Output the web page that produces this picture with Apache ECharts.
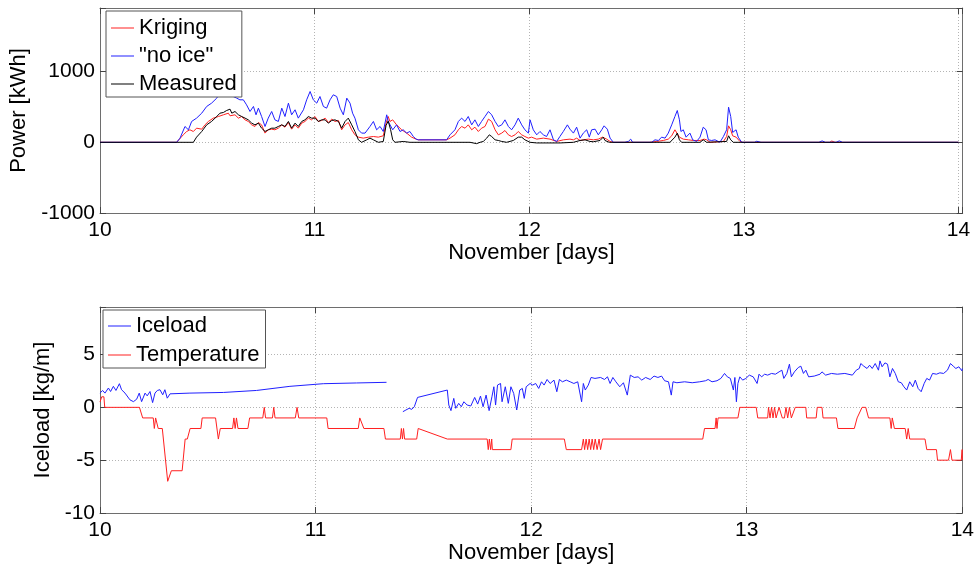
<!DOCTYPE html>
<html>
<head>
<meta charset="utf-8">
<script src="https://cdn.jsdelivr.net/npm/echarts@6/dist/echarts.min.js"></script>
<style>
  html, body { margin: 0; padding: 0; background: #fff; }
  #chart { width: 977px; height: 568px; }
</style>
</head>
<body>
<div id="chart"></div>
<script>
// ---- Power output, 10-14 November [day, kWh] ----
const krigingPower = [
  [10,0],[10.357,0],[10.388,106],[10.404,153],[10.419,177],[10.435,153],[10.450,200],[10.474,186],[10.489,247],
  [10.505,295],[10.528,342],[10.552,365],[10.575,389],[10.598,412],[10.606,375],[10.629,389],[10.645,342],
  [10.660,365],[10.676,318],[10.691,295],[10.707,247],[10.722,224],[10.738,280],[10.753,247],[10.769,130],
  [10.784,177],[10.800,186],[10.815,177],[10.831,200],[10.847,247],[10.862,214],[10.878,280],[10.893,186],
  [10.909,247],[10.924,200],[10.940,271],[10.955,295],[10.971,342],[10.986,318],[11.002,365],[11.017,295],
  [11.033,309],[11.049,342],[11.064,280],[11.080,328],[11.095,295],[11.111,309],[11.126,177],[11.142,247],
  [11.157,280],[11.173,177],[11.188,106],[11.204,73],[11.227,59],[11.251,73],[11.274,82],[11.297,73],
  [11.320,92],[11.333,271],[11.343,365],[11.351,295],[11.364,318],[11.382,247],[11.406,177],[11.429,130],
  [11.452,73],[11.473,45],[11.483,35],[11.615,35],[11.631,59],[11.654,106],[11.670,177],[11.685,224],
  [11.701,200],[11.716,247],[11.732,177],[11.747,214],[11.763,153],[11.778,200],[11.794,224],[11.810,328],
  [11.825,295],[11.841,177],[11.856,106],[11.872,130],[11.887,167],[11.903,106],[11.918,82],[11.934,106],
  [11.949,153],[11.965,106],[11.980,82],[11.996,59],[12.011,73],[12.035,45],[12.066,59],[12.097,45],
  [12.128,12],[12.159,35],[12.190,45],[12.206,35],[12.221,59],[12.237,26],[12.252,35],[12.276,45],
  [12.299,35],[12.322,45],[12.342,73],[12.361,45],[12.377,12],[12.392,0],[12.560,0],[12.594,12],
  [12.625,26],[12.648,45],[12.664,92],[12.679,177],[12.687,153],[12.700,73],[12.718,45],[12.742,35],
  [12.765,26],[12.796,26],[12.815,45],[12.827,35],[12.843,0],[12.905,12],[12.920,82],[12.929,233],
  [12.939,177],[12.948,92],[12.964,73],[12.982,12],[12.995,0],[13.400,0],[13.410,18],[13.425,0],[14,0]
];
const noIcePower = [
  [10,0],[10.357,0],[10.373,59],[10.396,224],[10.412,177],[10.427,295],[10.450,342],[10.474,412],[10.482,389],
  [10.497,507],[10.520,554],[10.544,625],[10.559,695],[10.575,672],[10.598,695],[10.621,648],[10.637,625],
  [10.652,601],[10.668,601],[10.683,530],[10.699,436],[10.715,507],[10.727,389],[10.738,483],[10.753,365],
  [10.769,224],[10.784,342],[10.800,436],[10.815,318],[10.831,295],[10.847,483],[10.862,365],[10.878,554],
  [10.893,389],[10.909,460],[10.924,342],[10.948,460],[10.963,601],[10.979,719],[10.994,601],[11.010,554],
  [11.025,648],[11.041,507],[11.056,483],[11.072,601],[11.087,672],[11.103,648],[11.119,483],[11.134,389],
  [11.150,625],[11.165,554],[11.177,412],[11.188,342],[11.204,177],[11.219,130],[11.235,130],[11.258,224],
  [11.274,295],[11.289,177],[11.305,224],[11.320,153],[11.336,389],[11.343,295],[11.351,318],[11.364,177],
  [11.382,247],[11.398,153],[11.413,177],[11.429,130],[11.444,153],[11.460,82],[11.473,45],[11.483,35],
  [11.615,35],[11.631,106],[11.654,177],[11.670,295],[11.685,342],[11.701,295],[11.716,365],[11.732,247],
  [11.747,318],[11.763,224],[11.778,295],[11.794,365],[11.810,436],[11.825,389],[11.841,295],[11.856,224],
  [11.872,247],[11.887,318],[11.903,224],[11.918,177],[11.934,247],[11.949,342],[11.965,247],[11.980,177],
  [11.996,130],[12.004,318],[12.019,177],[12.035,106],[12.050,153],[12.066,106],[12.081,82],[12.097,177],
  [12.113,35],[12.128,12],[12.143,82],[12.159,153],[12.178,247],[12.190,186],[12.206,130],[12.221,214],
  [12.237,59],[12.252,130],[12.268,177],[12.280,73],[12.291,177],[12.307,186],[12.322,106],[12.338,177],
  [12.349,233],[12.364,186],[12.377,59],[12.392,0],[12.446,0],[12.462,12],[12.473,45],[12.482,0],
  [12.571,0],[12.586,35],[12.602,26],[12.617,73],[12.633,59],[12.648,130],[12.664,247],[12.679,365],
  [12.690,450],[12.700,318],[12.707,153],[12.718,177],[12.731,73],[12.749,130],[12.762,35],[12.780,12],
  [12.796,73],[12.811,214],[12.824,177],[12.835,35],[12.850,26],[12.866,35],[12.889,0],[12.905,82],
  [12.920,177],[12.929,497],[12.939,365],[12.948,140],[12.964,177],[12.974,73],[12.990,0],[13.050,0],
  [13.060,15],[13.080,0],[13.350,0],[13.365,20],[13.380,0],[13.430,0],[13.445,20],[13.460,0],[14,0]
];
const measuredPower = [
  [10,0],[10.435,0],[10.450,73],[10.474,153],[10.497,247],[10.520,295],[10.544,365],[10.559,412],[10.575,422],
  [10.590,450],[10.606,469],[10.614,412],[10.629,436],[10.645,389],[10.660,365],[10.676,342],[10.691,318],
  [10.707,271],[10.722,247],[10.738,271],[10.753,200],[10.769,153],[10.784,177],[10.800,200],[10.815,200],
  [10.831,224],[10.847,247],[10.862,224],[10.878,295],[10.893,200],[10.909,271],[10.924,224],[10.940,295],
  [10.955,318],[10.971,365],[10.986,342],[11.002,342],[11.017,295],[11.033,318],[11.049,318],[11.064,271],
  [11.080,309],[11.095,318],[11.111,295],[11.126,200],[11.142,295],[11.157,342],[11.173,247],[11.188,153],
  [11.204,35],[11.219,0],[11.243,35],[11.258,59],[11.274,35],[11.297,0],[11.320,12],[11.333,240],
  [11.343,300],[11.354,180],[11.364,35],[11.375,0],[11.413,12],[11.444,0],[11.724,0],[11.755,-19],
  [11.771,0],[11.786,12],[11.802,59],[11.814,106],[11.825,82],[11.841,35],[11.856,26],[11.872,12],
  [11.895,0],[11.926,26],[11.949,73],[11.965,73],[11.980,35],[12.004,0],[12.035,-9],[12.144,-9],
  [12.206,0],[12.237,26],[12.260,35],[12.283,12],[12.299,8],[12.330,26],[12.345,73],[12.353,26],
  [12.373,0],[12.656,0],[12.679,73],[12.690,130],[12.700,35],[12.710,0],[12.796,0],[12.811,35],
  [12.827,0],[12.920,12],[12.929,92],[12.939,35],[12.951,0],[14,0]
];

// ---- Ice load [day, kg/m]; null marks the logging gap ----
const iceload = [
  [10.000,1.35],[10.012,1.6],[10.023,1.35],[10.039,1.83],[10.049,1.5],[10.062,1.99],[10.074,1.6],[10.090,2.24],
  [10.100,1.67],[10.116,1.35],[10.139,0.71],[10.155,0.54],[10.170,0.77],[10.182,1.35],[10.193,0.54],
  [10.209,1.35],[10.219,1.09],[10.232,1.5],[10.244,0.45],[10.255,1.35],[10.266,1.6],[10.278,1.67],
  [10.291,1.19],[10.301,1.67],[10.312,0.87],[10.318,0.71],[10.325,1.28],[10.417,1.35],[10.572,1.41],
  [10.726,1.6],[10.881,1.99],[11.036,2.24],[11.190,2.31],[11.329,2.37],[11.370,null],
  [11.405,-0.41],[11.419,-0.25],[11.434,-0.09],[11.446,-0.19],[11.458,0.06],[11.473,0.94],[11.611,1.64],
  [11.618,0.22],[11.628,-0.31],[11.641,0.85],[11.650,-0.09],[11.664,0.38],[11.676,0.06],[11.688,0.53],
  [11.703,0.22],[11.720,0.13],[11.738,0.94],[11.752,0.31],[11.765,1.07],[11.777,0.06],[11.791,1.16],
  [11.805,-0.31],[11.818,1.0],[11.827,1.95],[11.835,0.22],[11.844,2.11],[11.858,2.26],[11.865,0.53],
  [11.880,1.95],[11.894,0.38],[11.906,1.95],[11.919,1.32],[11.933,-0.25],[11.947,1.64],[11.959,1.79],
  [11.968,0.85],[11.977,1.95],[11.995,2.26],[12.007,2.11],[12.021,2.26],[12.035,1.79],[12.048,2.42],
  [12.060,2.11],[12.074,2.64],[12.088,2.26],[12.106,2.58],[12.119,1.48],[12.131,2.64],[12.145,2.42],
  [12.163,2.58],[12.181,2.42],[12.198,2.26],[12.216,2.42],[12.234,0.53],[12.242,2.26],[12.251,1.64],
  [12.265,2.11],[12.278,2.83],[12.296,2.74],[12.322,2.83],[12.340,2.64],[12.354,2.89],[12.366,2.26],
  [12.379,2.83],[12.393,2.42],[12.411,1.95],[12.428,2.33],[12.446,1.16],[12.460,3.05],[12.478,2.83],
  [12.496,2.89],[12.513,2.58],[12.531,2.83],[12.552,2.64],[12.570,2.96],[12.588,2.83],[12.605,2.96],
  [12.619,2.52],[12.637,2.42],[12.650,1.16],[12.658,2.42],[12.676,2.33],[12.712,2.42],[12.747,2.33],
  [12.782,2.42],[12.809,2.52],[12.821,2.64],[12.839,2.42],[12.862,2.52],[12.880,2.74],[12.897,3.21],
  [12.910,2.89],[12.924,2.74],[12.938,1.64],[12.945,2.83],[12.952,0.53],[12.959,2.26],[12.968,2.89],
  [12.981,2.58],[12.996,2.74],[13.012,3.05],[13.030,2.89],[13.048,2.26],[13.057,3.14],[13.069,2.89],
  [13.083,3.14],[13.097,3.05],[13.115,3.21],[13.133,3.14],[13.150,3.36],[13.163,3.52],[13.172,2.74],
  [13.186,3.21],[13.198,4.09],[13.207,2.89],[13.221,3.36],[13.239,3.77],[13.251,3.90],[13.263,3.21],
  [13.274,3.52],[13.287,2.89],[13.313,2.96],[13.340,3.14],[13.349,3.36],[13.366,3.05],[13.393,3.21],
  [13.420,3.14],[13.455,3.21],[13.490,3.05],[13.508,3.52],[13.522,3.68],[13.529,4.15],[13.543,3.90],
  [13.558,3.68],[13.570,3.99],[13.582,3.68],[13.596,4.15],[13.611,3.52],[13.618,4.40],[13.628,3.84],
  [13.641,4.21],[13.653,4.09],[13.664,2.89],[13.676,3.68],[13.689,3.21],[13.703,2.42],[13.717,2.33],
  [13.729,1.95],[13.742,1.64],[13.756,2.42],[13.770,1.95],[13.782,2.58],[13.795,1.79],[13.809,1.48],
  [13.823,2.26],[13.835,2.74],[13.848,2.58],[13.862,3.21],[13.880,3.14],[13.896,3.27],[13.913,3.21],
  [13.931,3.52],[13.945,4.15],[13.958,3.90],[13.970,3.68],[13.984,3.84],[13.998,3.46],[14.000,3.68]
];

// ---- Air temperature [day, deg C] ----
const temperature = [
  [10.000,0.5],[10.008,1],[10.018,1],[10.022,0],[10.183,0],[10.198,-1],[10.247,-1],[10.252,-2],[10.258,-1],
  [10.270,-2],[10.289,-2],[10.314,-7],[10.331,-6],[10.381,-6],[10.395,-3],[10.405,-3],[10.418,-2],
  [10.468,-2],[10.474,-1],[10.536,-1],[10.549,-3],[10.558,-2],[10.615,-2],[10.621,-1],[10.627,-2],
  [10.633,-1],[10.640,-2],[10.686,-2],[10.694,-1],[10.755,-1],[10.762,0],[10.768,-1],[10.800,-1],
  [10.806,0],[10.812,-1],[10.906,-1],[10.914,0],[10.922,-1],[11.052,-1],[11.058,-2],[11.198,-2],
  [11.205,-1],[11.214,-1],[11.224,-2],[11.317,-2],[11.324,-3],[11.393,-3],[11.398,-2],[11.403,-3],
  [11.408,-2],[11.413,-3],[11.469,-3],[11.476,-2],[11.611,-3],[11.796,-3],[11.801,-4],[11.806,-3],
  [11.812,-4],[11.817,-3],[11.820,-4],[11.906,-4],[11.912,-3],[12.154,-3],[12.163,-4],[12.234,-4],
  [12.242,-3],[12.248,-4],[12.255,-3],[12.262,-4],[12.269,-3],[12.276,-4],[12.283,-3],[12.290,-4],
  [12.297,-3],[12.306,-4],[12.315,-3],[12.322,-4],[12.331,-3],[12.796,-3],[12.804,-2],[12.853,-2],
  [12.858,-1],[12.862,-2],[12.867,-1],[12.959,-1],[12.968,0],[13.044,0],[13.051,-1],[13.097,-1],
  [13.101,0],[13.108,-1],[13.115,0],[13.122,-1],[13.129,0],[13.136,-1],[13.145,-1],[13.150,0],
  [13.159,0],[13.165,-1],[13.175,-1],[13.182,0],[13.190,-1],[13.198,0],[13.207,-1],[13.216,-1],
  [13.225,0],[13.274,0],[13.278,-1],[13.322,-1],[13.327,0],[13.349,0],[13.354,-1],[13.416,-1],
  [13.423,-2],[13.499,-2],[13.512,-1],[13.535,0],[13.552,0],[13.565,-1],[13.664,-1],[13.670,-2],
  [13.675,-1],[13.685,-2],[13.735,-2],[13.742,-3],[13.749,-2],[13.756,-3],[13.827,-3],[13.835,-4],
  [13.880,-4],[13.885,-5],[13.936,-5],[13.945,-4],[13.952,-5],[13.995,-5],[13.999,-4],[14.000,-5]
];

// ---- Tick labels ----
const dayTicks = [10, 11, 12, 13, 14];
const powerTicks = [-1000, 0, 1000];
const iceTicks = [-10, -5, 0, 5];

const FONT = '"Liberation Sans", Arial, Helvetica, sans-serif';
const FRAME = '#6e6e6e';
const TICK = '#444';
const GRIDLINE = '#b4b4b4';
const RED = '#ff2020';
const BLUE = '#2020ff';
const BLACK = '#000000';

function labelFrom(list) {
  return v => (list.some(t => Math.abs(t - v) < 1e-9) ? String(v) : '');
}

// Boxed axes (MATLAB style): labelled bottom/left axes, plain top/right axes with inward ticks.
function boxAxes(g, xMax, yMin, yMax, yStep, yTickList, yName, yNameGap, xNameGap) {
  const tick = { show: true, inside: true, length: 6, lineStyle: { color: TICK, width: 1 } };
  const line = { show: true, onZero: false, lineStyle: { color: FRAME, width: 1 } };
  const dotted = { show: true, lineStyle: { color: GRIDLINE, width: 1, type: [1, 2] } };
  const lbl = { color: '#000', fontSize: 21, fontFamily: FONT };
  const nameStyle = { color: '#000', fontSize: 22, fontFamily: FONT };
  const xs = [
    { type: 'value', gridIndex: g, min: 10, max: xMax, interval: 1, position: 'bottom',
      axisLine: line, axisTick: tick, splitLine: dotted,
      axisLabel: Object.assign({ margin: 7, formatter: labelFrom(dayTicks) }, lbl),
      name: 'November [days]', nameLocation: 'middle', nameGap: xNameGap, nameTextStyle: nameStyle },
    { type: 'value', gridIndex: g, min: 10, max: xMax, interval: 1, position: 'top',
      axisLine: line, axisTick: tick, splitLine: { show: false }, axisLabel: { show: false } }
  ];
  const ys = [
    { type: 'value', gridIndex: g, min: yMin, max: yMax, interval: yStep, position: 'left',
      axisLine: line, axisTick: tick, splitLine: dotted,
      axisLabel: Object.assign({ margin: 5, formatter: labelFrom(yTickList) }, lbl),
      name: yName, nameLocation: 'middle', nameGap: yNameGap, nameRotate: 90, nameTextStyle: nameStyle },
    { type: 'value', gridIndex: g, min: yMin, max: yMax, interval: yStep, position: 'right',
      axisLine: line, axisTick: tick, splitLine: { show: false }, axisLabel: { show: false } }
  ];
  return { xs, ys };
}

const powerAxes = boxAxes(0, 14.02, -1000, 1900, 1000, powerTicks, 'Power [kWh]', 56, 23);
const iceAxes = boxAxes(1, 14, -10, 9.5, 5, iceTicks, 'Iceload [kg/m]', 28, 21);

function lineSeries(name, data, color, xi, yi) {
  return { type: 'line', name, data, xAxisIndex: xi, yAxisIndex: yi, symbol: 'none',
    lineStyle: { color, width: 1 }, itemStyle: { color }, connectNulls: false, silent: true };
}
function legendKey(name, color) {
  return { name, itemStyle: { color, borderColor: color, borderWidth: 0 } };
}

// The no-ice simulation is shown quoted in the legend
const quotedNames = ['no ice'];

// Legend keys are drawn as short thin strokes
const legendBase = {
  orient: 'vertical', icon: 'rect', itemWidth: 23, itemHeight: 1, selectedMode: false,
  borderColor: '#555', borderWidth: 1, backgroundColor: '#fff',
  formatter: n => (quotedNames.includes(n) ? '"' + n + '"' : n),
  textStyle: { color: '#000', fontSize: 22, fontFamily: FONT, lineHeight: 22 }
};

const chart = echarts.init(document.getElementById('chart'), null, { renderer: 'canvas' });
chart.setOption({
  animation: false,
  backgroundColor: '#fff',
  grid: [
    { left: 100, top: 8, width: 862.7, height: 205 },
    { left: 100, top: 307, width: 862.5, height: 206 }
  ],
  xAxis: powerAxes.xs.concat(iceAxes.xs),
  yAxis: powerAxes.ys.concat(iceAxes.ys),
  legend: [
    Object.assign({}, legendBase, { left: 106, top: 11, padding: [6, 5, 2, 5], itemGap: 6,
      data: [legendKey('Kriging', RED), legendKey('no ice', BLUE), legendKey('Measured', BLACK)] }),
    Object.assign({}, legendBase, { left: 103, top: 310, padding: [5, 6, 2, 5], itemGap: 7,
      data: [legendKey('Iceload', BLUE), legendKey('Temperature', RED)] })
  ],
  series: [
    lineSeries('Kriging', krigingPower, RED, 0, 0),
    lineSeries('no ice', noIcePower, BLUE, 0, 0),
    lineSeries('Measured', measuredPower, BLACK, 0, 0),
    lineSeries('Iceload', iceload, BLUE, 2, 2),
    lineSeries('Temperature', temperature, RED, 2, 2)
  ]
});
</script>
</body>
</html>
